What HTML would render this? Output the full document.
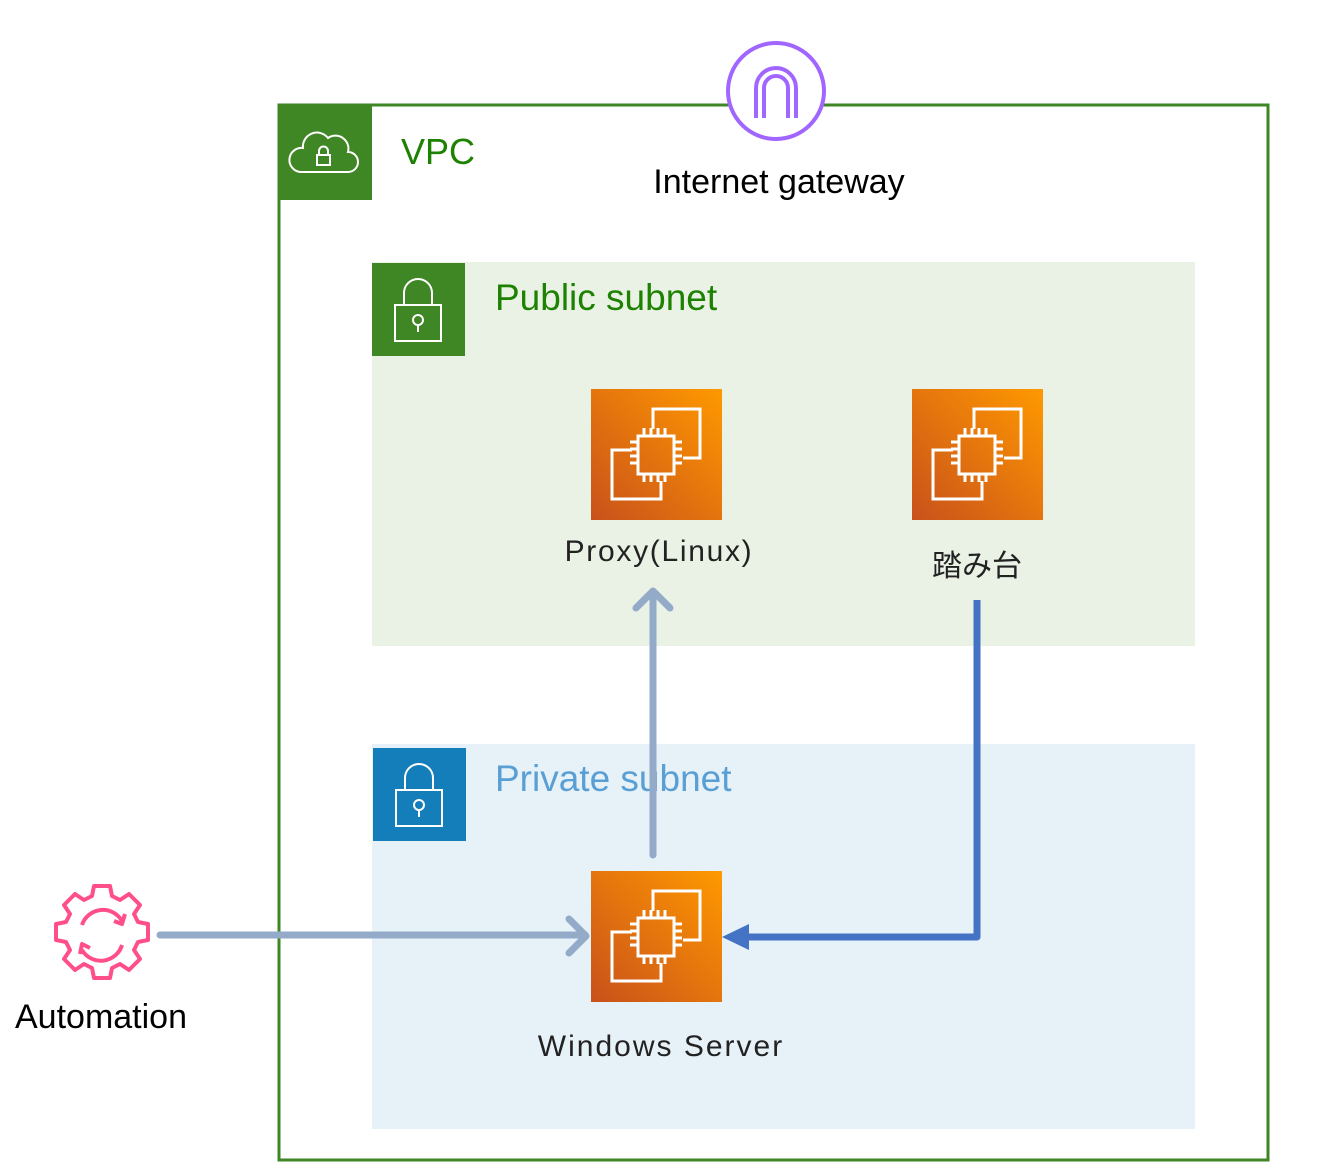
<!DOCTYPE html>
<html><head><meta charset="utf-8"><style>
html,body{margin:0;padding:0;background:#fff}
svg{display:block}
text{font-family:"Liberation Sans","Noto Sans CJK JP",sans-serif}
</style></head><body>
<svg width="1324" height="1171" viewBox="0 0 1324 1171" xmlns="http://www.w3.org/2000/svg">
<defs>
<linearGradient id="og" x1="0" y1="1" x2="1" y2="0">
<stop offset="0" stop-color="#c8511b"/><stop offset="1" stop-color="#ff9900"/></linearGradient>
<g id="ec2">
<rect width="131" height="131" fill="url(#og)"/>
<g fill="none" stroke="#fff" stroke-width="3">
<path d="M62 40 V20 H109 V69 H92"/>
<path d="M41 61 H21 V110 H70 V92"/>
<rect x="47" y="47" width="36" height="38"/>
<path d="M53 39v8M60 39v8M67 39v8M74 39v8M53 85v8M60 85v8M67 85v8M74 85v8M39 53h8M39 60h8M39 67h8M39 74h8M83 53h8M83 60h8M83 67h8M83 74h8"/>
</g>
</g>
</defs>
<rect x="279" y="105" width="989" height="1055" fill="#fff" stroke="#3f8624" stroke-width="3"/>
<rect x="278" y="104" width="94" height="96" fill="#3f8624"/>
<path d="M300 172 h48 a10 10 0 0 0 0-20 a13 13 0 0 0-20-14 a14 14 0 0 0-25 10 a12 12 0 0 0-3 24z" fill="none" stroke="#fff" stroke-width="2"/>
<rect x="317" y="155" width="13" height="10" fill="none" stroke="#fff" stroke-width="2"/>
<path d="M319 155 v-4 a4 4 0 0 1 9 0 v4" fill="none" stroke="#fff" stroke-width="2"/>
<text x="401" y="164" font-size="36" fill="#1d8102">VPC</text>
<circle cx="776" cy="91" r="48" fill="#fff" stroke="#a166ff" stroke-width="4"/>
<path d="M756 118 V88 a20 20 0 0 1 40 0 V118 M764 118 V88 a12 12 0 0 1 24 0 V118" fill="none" stroke="#a166ff" stroke-width="4"/>
<text x="779" y="193" font-size="34" fill="#000" text-anchor="middle">Internet gateway</text>
<rect x="372" y="262" width="823" height="384" fill="#e9f2e5"/>
<rect x="372" y="263" width="93" height="93" fill="#3f8624"/>
<rect x="395" y="305" width="46" height="36" fill="none" stroke="#fff" stroke-width="2"/>
<path d="M404 305 v-12 a14 14 0 0 1 28 0 v12" fill="none" stroke="#fff" stroke-width="2"/>
<circle cx="418" cy="320" r="5" fill="none" stroke="#fff" stroke-width="2"/><path d="M418 325v7" stroke="#fff" stroke-width="2"/>
<text x="495" y="310" font-size="37" fill="#1d8102">Public subnet</text>
<rect x="372" y="744" width="823" height="385" fill="#e7f1f8"/>
<rect x="373" y="748" width="93" height="93" fill="#147eba"/>
<rect x="396" y="790" width="46" height="36" fill="none" stroke="#fff" stroke-width="2"/>
<path d="M405 790 v-12 a14 14 0 0 1 28 0 v12" fill="none" stroke="#fff" stroke-width="2"/>
<circle cx="419" cy="805" r="5" fill="none" stroke="#fff" stroke-width="2"/><path d="M419 810v7" stroke="#fff" stroke-width="2"/>
<text x="495" y="791" font-size="37" fill="#5a9fd4">Private subnet</text>
<use href="#ec2" x="591" y="389"/>
<use href="#ec2" x="912" y="389"/>
<use href="#ec2" x="591" y="871"/>
<text x="659" y="561" font-size="30" fill="#222" text-anchor="middle" letter-spacing="1.7">Proxy(Linux)</text>
<text x="977" y="576" font-size="30" fill="#222" text-anchor="middle">踏み台</text>
<text x="661" y="1056" font-size="30" fill="#222" text-anchor="middle" letter-spacing="2">Windows Server</text>
<g fill="none" stroke-linecap="round" stroke-linejoin="round">
<path d="M653 855 V595" stroke="#93aac9" stroke-width="7"/>
<path d="M636 608 L653 591 L670 608" stroke="#93aac9" stroke-width="7"/>
<path d="M160 935 H585" stroke="#93aac9" stroke-width="7"/>
<path d="M569 919 L586 936 L569 953" stroke="#93aac9" stroke-width="7"/>
<path d="M977 600 V937 H745" stroke="#4472c4" stroke-width="7" stroke-linecap="butt"/>
</g>
<path d="M722 937 L749 924 L749 950 Z" fill="#4472c4"/>
<g fill="none" stroke="#ff4f8b" stroke-width="4" stroke-linejoin="round">
<path d="M94 886 h16 l2 10 l8 4 l9-6 l11 11 l-6 9 l4 8 l10 2 v16 l-10 2 l-4 8 l6 9 l-11 11 l-9-6 l-8 4 l-2 10 h-16 l-2-10 l-8-4 l-9 6 l-11-11 l6-9 l-4-8 l-10-2 v-16 l10-2 l4-8 l-6-9 l11-11 l9 6 l8-4 z"/>
<path d="M82 925 a22 22 0 0 1 40 -4"/>
<path d="M114 921 l8 3 l3-10"/>
<path d="M122 945 a22 22 0 0 1 -40 5"/>
<path d="M90 948 l-8-4 l-2 10"/>
</g>
<text x="101" y="1028" font-size="34" fill="#000" text-anchor="middle">Automation</text>
</svg>
</body></html>
